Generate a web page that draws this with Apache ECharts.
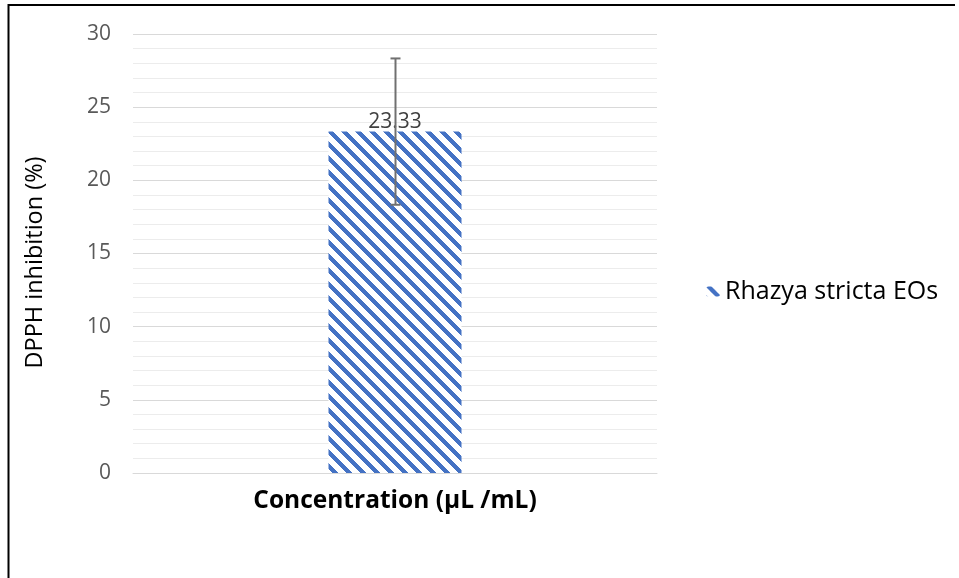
<!DOCTYPE html>
<html>
<head>
<meta charset="utf-8">
<script src="https://cdn.jsdelivr.net/npm/echarts@6/dist/echarts.min.js"></script>
<style>html,body{margin:0;padding:0;background:#fff}#c{width:959px;height:578px}</style>
</head>
<body>
<div id="c"></div>
<script>
var categories = ['Concentration (µL /mL)'];
var seriesName = 'Rhazya stricta EOs';
var values = [23.33];
var errors = [5.0];
var yTicks = [0, 5, 10, 15, 20, 25, 30];

function makePattern() {
  var s = 14, c = document.createElement('canvas');
  c.width = s; c.height = s;
  var ctx = c.getContext('2d');
  ctx.fillStyle = '#ffffff'; ctx.fillRect(0, 0, s, s);
  ctx.fillStyle = '#4472C4';
  for (var y = 0; y < s; y++) for (var x = 0; x < s; x++) {
    if ((((x - y) % s) + s) % s < 6) ctx.fillRect(x, y, 1, 1);
  }
  return c;
}
var pat = { image: makePattern(), repeat: 'repeat' };

var chart = echarts.init(document.getElementById('c'));
var font = '"Open Sans", sans-serif';
chart.setOption({
  animation: false,
  textStyle: { fontFamily: font },
  grid: { left: 133, right: 302, top: 34, bottom: 105 },
  legend: {
    data: [seriesName], orient: 'vertical', left: 701, top: 274,
    itemWidth: 14, itemHeight: 10, itemGap: 6,
    textStyle: { fontFamily: font, fontSize: 25, color: '#000' }
  },
  xAxis: {
    type: 'category', data: categories,
    axisLine: { show: true, lineStyle: { color: '#d9d9d9', width: 1 } },
    axisTick: { show: false }, axisLabel: { show: false },
    name: categories[0], nameLocation: 'middle', nameGap: 16,
    nameTextStyle: { fontFamily: font, fontSize: 24.5, fontWeight: 'bold', color: '#000' }
  },
  yAxis: {
    type: 'value', min: yTicks[0], max: yTicks[yTicks.length - 1], interval: 5,
    axisLine: { show: false }, axisTick: { show: false },
    axisLabel: { fontFamily: font, fontSize: 21, color: '#595959', margin: 22 },
    splitLine: { lineStyle: { color: '#d9d9d9', width: 1 } },
    minorTick: { show: false, splitNumber: 5 },
    minorSplitLine: { show: true, lineStyle: { color: '#ececec', width: 1 } },
    name: 'DPPH inhibition (%)', nameLocation: 'middle', nameGap: 86,
    nameTextStyle: { fontFamily: font, fontSize: 23.5, color: '#000', padding: [0, 18, 0, 0] }
  },
  series: [
    {
      name: seriesName, type: 'bar', data: values, barWidth: 133,
      itemStyle: { color: pat },
      label: { show: true, position: 'top', distance: -1, fontFamily: font, fontSize: 21, color: '#404040',
        formatter: function (p) { return p.value.toFixed(2); } }
    },
    {
      name: 'err', type: 'custom', data: values.map(function (v, i) { return [i, v - errors[i], v + errors[i]]; }),
      z: 5,
      renderItem: function (params, api) {
        var lo = api.coord([api.value(0), api.value(1)]);
        var hi = api.coord([api.value(0), api.value(2)]);
        var x = Math.round(lo[0]) + 0.5, hw = 5;
        var st = { stroke: '#707070', lineWidth: 2 };
        return { type: 'group', children: [
          { type: 'line', shape: { x1: x, y1: hi[1], x2: x, y2: lo[1] }, style: st },
          { type: 'line', shape: { x1: x - hw, y1: hi[1], x2: x + hw, y2: hi[1] }, style: st },
          { type: 'line', shape: { x1: x - hw, y1: lo[1], x2: x + hw, y2: lo[1] }, style: st }
        ] };
      }
    }
  ],
  graphic: [{
    type: 'polyline', silent: true,
    shape: { points: [[8.5, 578], [8.5, 5], [955, 5]] },
    style: { stroke: '#000', lineWidth: 2, fill: null }
  }]
});
</script>
</body>
</html>
